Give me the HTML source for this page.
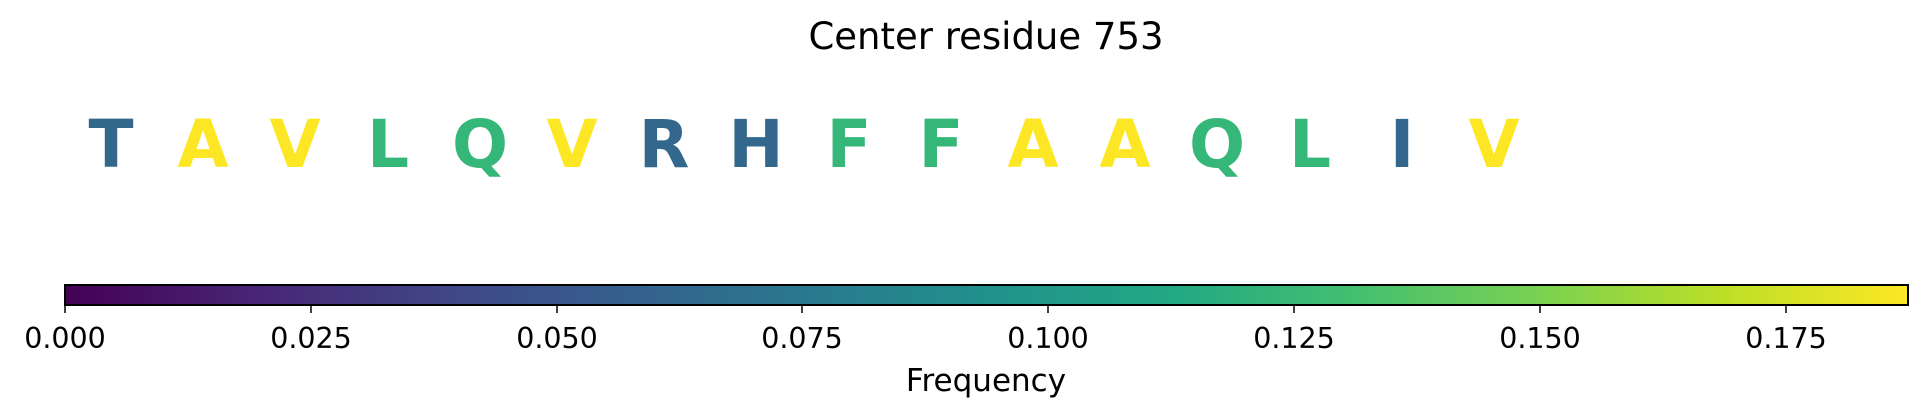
<!DOCTYPE html>
<html><head><meta charset="utf-8"><style>
html,body{margin:0;padding:0;background:#fff;width:1927px;height:416px;overflow:hidden}
svg text{font-family:"DejaVu Sans","Liberation Sans",sans-serif}
</style></head><body>
<svg width="1927" height="416" xmlns="http://www.w3.org/2000/svg">
<defs><linearGradient id="v" x1="0" x2="1" y1="0" y2="0">
<stop offset="0" stop-color="#440154"/><stop offset="0.1" stop-color="#482475"/><stop offset="0.2" stop-color="#414487"/><stop offset="0.3" stop-color="#355f8d"/><stop offset="0.4" stop-color="#2a788e"/><stop offset="0.5" stop-color="#21918c"/><stop offset="0.6" stop-color="#22a884"/><stop offset="0.7" stop-color="#44bf70"/><stop offset="0.8" stop-color="#7ad151"/><stop offset="0.9" stop-color="#bddf26"/><stop offset="1" stop-color="#fde725"/>
</linearGradient></defs>
<text x="986" y="49" font-size="37" text-anchor="middle">Center residue 753</text>
<g font-size="66" font-weight="bold" text-anchor="middle">
<text x="111" y="167" fill="#33688c">T</text>
<text x="203" y="167" fill="#fde725">A</text>
<text x="295" y="167" fill="#fde725">V</text>
<text x="388" y="167" fill="#35b779">L</text>
<text x="480" y="167" fill="#35b779">Q</text>
<text x="572" y="167" fill="#fde725">V</text>
<text x="664" y="167" fill="#33688c">R</text>
<text x="756" y="167" fill="#33688c">H</text>
<text x="849" y="167" fill="#35b779">F</text>
<text x="941" y="167" fill="#35b779">F</text>
<text x="1033" y="167" fill="#fde725">A</text>
<text x="1125" y="167" fill="#fde725">A</text>
<text x="1217" y="167" fill="#35b779">Q</text>
<text x="1310" y="167" fill="#35b779">L</text>
<text x="1402" y="167" fill="#33688c">I</text>
<text x="1494" y="167" fill="#fde725">V</text>
</g>
<rect x="65" y="285" width="1843" height="20" fill="url(#v)" stroke="#000" stroke-width="2"/>
<g stroke="#000" stroke-width="1.5">
<line x1="65" y1="305" x2="65" y2="313"/><line x1="311" y1="305" x2="311" y2="313"/><line x1="557" y1="305" x2="557" y2="313"/><line x1="802" y1="305" x2="802" y2="313"/><line x1="1048" y1="305" x2="1048" y2="313"/><line x1="1294" y1="305" x2="1294" y2="313"/><line x1="1540" y1="305" x2="1540" y2="313"/><line x1="1786" y1="305" x2="1786" y2="313"/>
</g>
<g font-size="28.5" text-anchor="middle">
<text x="65" y="348">0.000</text><text x="311" y="348">0.025</text><text x="557" y="348">0.050</text><text x="802" y="348">0.075</text><text x="1048" y="348">0.100</text><text x="1294" y="348">0.125</text><text x="1540" y="348">0.150</text><text x="1786" y="348">0.175</text>
</g>
<text x="986" y="391" font-size="31" text-anchor="middle">Frequency</text>
</svg>
</body></html>
